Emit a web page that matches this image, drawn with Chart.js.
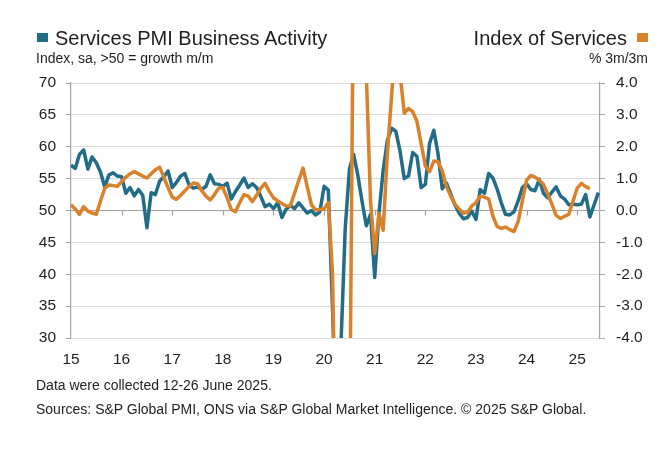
<!DOCTYPE html>
<html><head><meta charset="utf-8">
<script src="https://cdn.jsdelivr.net/npm/chart.js@4.4.1/dist/chart.umd.min.js"></script>
<style>
html,body{margin:0;padding:0;background:#fff;}
#wrap{position:relative;width:665px;height:449px;overflow:hidden;font-family:"Liberation Sans",Arial,sans-serif;color:#1e1e1e;}
#c{position:absolute;left:0;top:0;}
.t{position:absolute;white-space:nowrap;line-height:1;}
</style></head><body>
<div id="wrap">
<canvas id="c" width="665" height="449"></canvas>
<div class="t" style="left:37px;top:33px;width:11px;height:9px;background:#226C88"></div>
<div class="t" style="left:55px;top:28px;font-size:20px;">Services PMI Business Activity</div>
<div class="t" style="left:36px;top:51px;font-size:14px;">Index, sa, &gt;50 = growth m/m</div>
<div class="t" style="right:38px;top:28px;font-size:20px;">Index of Services</div>
<div class="t" style="left:637px;top:33px;width:11px;height:9px;background:#D9822B"></div>
<div class="t" style="right:17px;top:51px;font-size:14px;">% 3m/3m</div>
<div class="t" style="left:36px;top:378px;font-size:14px;">Data were collected 12-26 June 2025.</div>
<div class="t" style="left:36px;top:402px;font-size:14px;">Sources: S&amp;P Global PMI, ONS via S&amp;P Global Market Intelligence. © 2025 S&amp;P Global.</div>
</div>
<script>
// Monthly data, Jan 2015 onwards
const startYear = 15;
const yearLabels = ['15','16','17','18','19','20','21','22','23','24','25'];
const pmiTickLabels = ['30','35','40','45','50','55','60','65','70'];
// Services PMI Business Activity (index), Jan 2015 - Jun 2025
const pmi2015 = [57.1,56.6,58.8,59.5,56.5,58.4,57.5,56.0,53.7,55.6,55.9,55.4];
const pmi2016 = [55.3,52.7,53.6,52.3,53.3,52.4,47.3,52.8,52.5,54.6,55.3,56.2];
const pmi2017 = [53.6,54.4,55.4,55.8,54.0,53.5,53.7,53.3,53.8,55.6,54.2,54.1];
const pmi2018 = [53.8,54.3,51.8,53.0,54.0,55.1,53.6,54.2,53.6,52.2,50.6,51.0];
const pmi2019 = [50.3,51.2,48.9,50.2,50.8,50.3,51.2,50.4,49.6,50.0,49.3,49.8];
const pmi2020 = [53.8,53.2,34.5,13.4,29.0,47.1,56.5,58.8,55.5,51.4,47.6,49.4];
const pmi2021 = [39.5,49.5,56.3,61.0,62.9,62.4,59.3,55.0,55.4,59.1,58.5,53.6];
const pmi2022 = [54.1,60.5,62.6,58.9,53.4,54.3,52.6,50.9,49.6,48.7,48.9,49.9];
const pmi2023 = [48.6,53.3,52.7,55.8,55.1,53.4,51.2,49.4,49.3,49.8,51.5,53.6];
const pmi2024 = [54.2,53.3,53.1,54.9,52.7,52.0,52.9,53.7,52.3,51.8,50.9,51.0];
const pmi2025 = [50.9,51.0,52.5,49.0,50.9,52.8];
// Index of Services, % 3m/3m, Jan 2015 - Apr 2025
const ios2015 = [0.18,0.05,-0.12,0.12,-0.02,-0.08,-0.12,0.30,0.70,0.80,0.78,0.76];
const ios2016 = [0.90,1.05,1.15,1.22,1.15,1.08,1.02,1.15,1.28,1.36,1.05,0.72];
const ios2017 = [0.42,0.35,0.48,0.62,0.75,0.86,0.84,0.62,0.45,0.33,0.50,0.70];
const ios2018 = [0.72,0.40,0.03,-0.04,0.25,0.50,0.45,0.28,0.48,0.70,0.85,0.60];
const ios2019 = [0.40,0.30,0.22,0.14,0.15,0.55,0.95,1.33,0.75,0.18,0.02,0.03];
const ios2020 = [0.05,0.25,-2.0,-10.0,-18.0,-20.0,-8.0,8.0,15.0,10.0,4.3,0.3];
const ios2021 = [-1.35,-0.09,-0.62,1.8,3.6,5.5,4.3,3.05,3.2,3.1,2.8,2.1];
const ios2022 = [1.4,1.22,1.55,1.53,1.25,0.75,0.45,0.2,0.05,-0.09,-0.06,0.14];
const ios2023 = [0.25,0.45,0.42,0.36,-0.17,-0.5,-0.56,-0.52,-0.6,-0.66,-0.35,0.3];
const ios2024 = [0.95,1.1,1.05,0.95,0.82,0.52,0.2,-0.15,-0.25,-0.18,-0.12,0.3];
const ios2025 = [0.7,0.85,0.75,0.68];

const pmi = [].concat(pmi2015,pmi2016,pmi2017,pmi2018,pmi2019,pmi2020,pmi2021,pmi2022,pmi2023,pmi2024,pmi2025);
const ios = [].concat(ios2015,ios2016,ios2017,ios2018,ios2019,ios2020,ios2021,ios2022,ios2023,ios2024,ios2025);
const pmiPts = pmi.map((v,i)=>({x:i,y:v}));
const iosPts = ios.map((v,i)=>({x:i,y:v}));

const TEAL = '#226C88', ORANGE = '#D9822B';
const AXIS = '#a3a3a3', GRID = '#d9d9d9';
const FONT = {family:'"Liberation Sans", Arial, sans-serif', size:15.5};
const TXT = '#1e1e1e';

const axis50 = {
  id:'axis50',
  beforeDatasetsDraw(chart){
    const {ctx, scales:{x,y}} = chart;
    const py = y.getPixelForValue(50);
    ctx.save();
    ctx.strokeStyle = AXIS; ctx.lineWidth = 1.2;
    ctx.beginPath();
    ctx.moveTo(chart.chartArea.left, py); ctx.lineTo(chart.chartArea.right, py);
    for(let k=1;k<yearLabels.length;k++){
      const px = Math.round(x.getPixelForValue(k*12))+0.5;
      ctx.moveTo(px, py); ctx.lineTo(px, py+5);
    }
    ctx.stroke();
    ctx.restore();
  }
};

new Chart(document.getElementById('c'), {
  type:'line',
  data:{datasets:[
    {label:'Index of Services', data:iosPts, yAxisID:'y1', borderColor:ORANGE, backgroundColor:ORANGE, borderWidth:3.5, pointRadius:0, tension:0, fill:false, borderJoinStyle:'round'},
    {label:'Services PMI Business Activity', data:pmiPts, yAxisID:'y', borderColor:TEAL, backgroundColor:TEAL, borderWidth:3.5, pointRadius:0, tension:0, fill:false, borderJoinStyle:'round'}
  ]},
  options:{
    responsive:false, animation:false,
    layout:{padding:{top:83,left:0,right:0,bottom:0}},
    plugins:{legend:{display:false}, tooltip:{enabled:false}},
    scales:{
      x:{type:'linear', position:'bottom', min:0, max:125.4,
        afterFit(s){ s.height = 449-338; },
        afterBuildTicks(s){ s.ticks = yearLabels.map((_,i)=>({value:i*12})); },
        grid:{display:false, drawTicks:false}, border:{display:false},
        ticks:{font:FONT, color:TXT, padding:12, maxRotation:0, autoSkip:false,
          callback:(v)=> yearLabels[Math.round(v/12)]}
      },
      y:{position:'left', min:30, max:70,
        afterFit(s){ s.width = 71; },
        afterBuildTicks(s){ s.ticks = pmiTickLabels.map(t=>({value:+t})); },
        ticks:{font:FONT, color:TXT, padding:10, callback:(v)=>String(v)},
        grid:{color:(c)=> GRID, lineWidth:1, tickLength:5, tickColor:AXIS, drawTicks:true},
        border:{color:AXIS, width:1.2}
      },
      y1:{position:'right', min:-4, max:4,
        afterFit(s){ s.width = 65; },
        ticks:{font:FONT, color:TXT, padding:11, stepSize:1, callback:(v)=>Number(v).toFixed(1)},
        grid:{drawOnChartArea:false, tickLength:5, tickColor:AXIS, drawTicks:true},
        border:{color:AXIS, width:1.2}
      }
    }
  },
  plugins:[axis50]
});
</script>
</body></html>
